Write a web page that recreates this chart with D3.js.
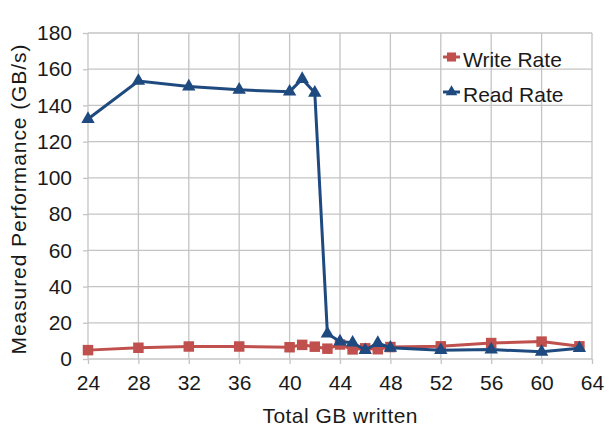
<!DOCTYPE html>
<html>
<head>
<meta charset="utf-8">
<script src="https://cdn.jsdelivr.net/npm/d3@7"></script>
<style>
  body { margin: 0; background: #fff; }
  svg { display: block; font-family: "Liberation Sans", Arial, sans-serif; }
  .grid line { stroke: #c4c4c4; stroke-width: 1.3; }
  .axis text { fill: #1a1a1a; font-size: 21px; }
  .axis line, .axis path { stroke: #c4c4c4; stroke-width: 1.3; }
</style>
</head>
<body>
<svg width="609" height="435"></svg>
<script>
var gbWritten = [24, 28, 32, 36, 40, 41, 42, 43, 44, 45, 46, 47, 48, 52, 56, 60, 63];
var writeRate = [4.9, 6.2, 6.9, 6.9, 6.5, 7.8, 6.8, 5.7, 8, 5.3, 5.9, 5.4, 6.6, 7, 8.8, 9.6, 7];
var readRate = [132.5, 153.5, 150.4, 148.6, 147.6, 154.6, 147, 14, 9.6, 9, 4.9, 8.8, 6.2, 4.9, 5.2, 4, 6];
var xTicks = [24, 28, 32, 36, 40, 44, 48, 52, 56, 60, 64];
var yTicks = [0, 20, 40, 60, 80, 100, 120, 140, 160, 180];

var svg = d3.select("svg");
var margin = {left: 88, right: 17, top: 33, bottom: 76};
var width = 609 - margin.left - margin.right,
    height = 435 - margin.top - margin.bottom;

var x = d3.scaleLinear().domain([24, 64]).range([0, width]);
var y = d3.scaleLinear().domain([0, 180]).range([height, 0]);

var g = svg.append("g").attr("transform", "translate(" + margin.left + "," + margin.top + ")");

// grid
g.append("g").attr("class", "grid")
  .selectAll("line").data(yTicks).enter().append("line")
    .attr("x1", 0).attr("x2", width)
    .attr("y1", function(d) { return y(d); }).attr("y2", function(d) { return y(d); });
g.append("g").attr("class", "grid")
  .selectAll("line").data(xTicks).enter().append("line")
    .attr("y1", 0).attr("y2", height)
    .attr("x1", function(d) { return x(d); }).attr("x2", function(d) { return x(d); });

// axes
g.append("g").attr("class", "axis")
    .attr("transform", "translate(0," + height + ")")
    .call(d3.axisBottom(x).tickValues(xTicks).tickSize(5).tickPadding(11).tickSizeOuter(0))
  .call(function(s) { s.select(".domain").remove(); });
g.append("g").attr("class", "axis")
    .call(d3.axisLeft(y).tickValues(yTicks).tickSize(5).tickPadding(11).tickSizeOuter(0))
  .call(function(s) { s.select(".domain").remove(); });

// axis titles
svg.append("text")
    .attr("x", 340).attr("y", 423)
    .attr("text-anchor", "middle").attr("font-size", 21).attr("fill", "#1a1a1a")
    .attr("textLength", 155).attr("lengthAdjust", "spacing")
    .text("Total GB written");
svg.append("text")
    .attr("transform", "translate(26,199.5) rotate(-90)")
    .attr("text-anchor", "middle").attr("font-size", 21).attr("fill", "#1a1a1a")
    .attr("textLength", 310).attr("lengthAdjust", "spacing")
    .text("Measured Performance (GB/s)");

var series = [
  {name: "Write Rate", values: writeRate, color: "#c0504d", shape: d3.symbolSquare, size: 110},
  {name: "Read Rate", values: readRate, color: "#1f4a7f", shape: d3.symbolTriangle, size: 78}
];

var line = d3.line()
    .x(function(d) { return x(d[0]); })
    .y(function(d) { return y(d[1]); });

series.forEach(function(s) {
  var pts = gbWritten.map(function(v, i) { return [v, s.values[i]]; });
  g.append("path")
      .datum(pts)
      .attr("fill", "none")
      .attr("stroke", s.color)
      .attr("stroke-width", 3)
      .attr("d", line);
  g.selectAll(null).data(pts).enter().append("path")
      .attr("transform", function(d) { return "translate(" + x(d[0]) + "," + y(d[1]) + ")"; })
      .attr("d", d3.symbol().type(s.shape).size(s.size))
      .attr("fill", s.color);
});

// legend
var legend = svg.append("g").attr("transform", "translate(443,57)");
series.forEach(function(s, i) {
  var row = legend.append("g").attr("transform", "translate(0," + (i * 35) + ")");
  row.append("line").attr("x1", 0).attr("x2", 17)
      .attr("stroke", s.color).attr("stroke-width", 3);
  row.append("path").attr("transform", "translate(8.5,0)")
      .attr("d", d3.symbol().type(s.shape).size(s.size * 0.75))
      .attr("fill", s.color);
  row.append("text").attr("x", 20).attr("y", 10)
      .attr("font-size", 21).attr("fill", "#1a1a1a")
      .text(s.name);
});
</script>
</body>
</html>
